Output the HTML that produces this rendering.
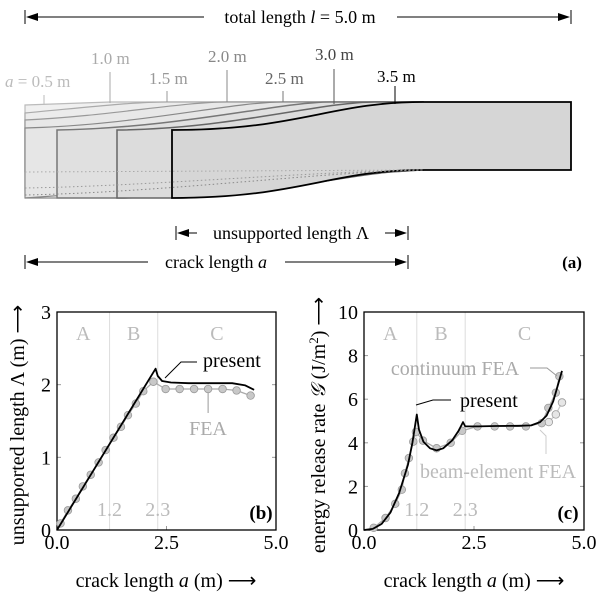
<!DOCTYPE html>
<html><head><meta charset="utf-8"><style>
html,body{margin:0;padding:0;background:#fff;}
svg{display:block;font-family:"Liberation Serif",serif;}
</style></head><body>
<svg id="fig" width="600" height="596" viewBox="0 0 600 596" xmlns="http://www.w3.org/2000/svg">
<g id="panel-a">
 <g>
  <line x1="25" y1="10" x2="25" y2="24" stroke="#000"/><line x1="571" y1="10" x2="571" y2="24" stroke="#000"/>
  <line x1="37" y1="17" x2="204" y2="17" stroke="#000"/><path d="M26,17 L38,13 L38,21Z"/>
  <line x1="397" y1="17" x2="560" y2="17" stroke="#000"/><path d="M570,17 L558,13 L558,21Z"/>
  <text x="300" y="23" font-size="18" text-anchor="middle">total length <tspan font-style="italic">l</tspan> = 5.0 m</text>
 </g>
 <g>
  <path d="M25,105 L110,102 L423,102 L423,170 L25,172 Z" fill="#f0f0f0" stroke="#bbb" stroke-width="1.2"/>
  <path d="M25,113 C80,108 130,102 167,102 L423,102 L423,170 L25,190 Z" fill="#ececec" stroke="#aaa" stroke-width="1.2"/>
  <path d="M25,120 C110,116 180,102 227,102 L423,102 L423,170 L25,195 Z" fill="#e8e8e8" stroke="#999" stroke-width="1.2"/>
  <path d="M25,128 C140,125 230,102 283,102 L423,102 L423,170 L25,198 Z" fill="#e6e6e6" stroke="#888" stroke-width="1.2"/>
  <path d="M57,130 C180,128 280,102 330,102 L423,102 L423,170 C330,170 200,198 120,198 L57,198 Z" fill="#e0e0e0" stroke="#777" stroke-width="1.5"/>
  <path d="M117,130 C230,129 320,102 375,102 L423,102 L423,170 C360,170 260,198 172,198 L117,198 Z" fill="#dcdcdc" stroke="#666" stroke-width="1.5"/>
  <path d="M172,130 C300,130 330,102 423,102 L571,102 L571,170 L423,170 C330,170 300,198 172,198 Z" fill="#d6d6d6" stroke="#000" stroke-width="1.8"/>
  <line x1="25" y1="172" x2="25" y2="198" stroke="#999" stroke-width="1.2"/>
  <line x1="25" y1="198" x2="57" y2="198" stroke="#888" stroke-width="1.2"/>
  <path d="M25,172 L423,170" fill="none" stroke="#aaa" stroke-dasharray="1.5,2.5"/>
  <path d="M25,188 C150,186 300,172 423,170" fill="none" stroke="#999" stroke-dasharray="1.5,2.5"/>
  <path d="M25,195 C170,192 320,172 423,170" fill="none" stroke="#888" stroke-dasharray="1.5,2.5"/>
 </g>
 <g font-size="17">
  <line x1="44" y1="95" x2="44" y2="104" stroke="#bbb"/><text x="5" y="87" fill="#bbb"><tspan font-style="italic">a</tspan> = 0.5 m</text>
  <line x1="110" y1="72" x2="110" y2="103" stroke="#aaa"/><text x="91" y="64" fill="#aaa">1.0 m</text>
  <line x1="167" y1="91" x2="167" y2="102" stroke="#999"/><text x="149" y="84" fill="#999">1.5 m</text>
  <line x1="227" y1="70" x2="227" y2="102" stroke="#888"/><text x="208" y="62" fill="#888">2.0 m</text>
  <line x1="283" y1="91" x2="283" y2="102" stroke="#777"/><text x="265" y="84" fill="#666">2.5 m</text>
  <line x1="334" y1="69" x2="334" y2="104" stroke="#555"/><text x="315" y="60" fill="#444">3.0 m</text>
  <line x1="395" y1="86" x2="395" y2="104" stroke="#000"/><text x="377" y="82" fill="#000">3.5 m</text>
 </g>
 <g>
  <line x1="176" y1="226" x2="176" y2="240" stroke="#000"/><line x1="408" y1="226" x2="408" y2="240" stroke="#000"/>
  <path d="M177,233 L189,229 L189,237Z"/><line x1="188" y1="233" x2="197" y2="233" stroke="#000"/>
  <path d="M407,233 L395,229 L395,237Z"/><line x1="385" y1="233" x2="396" y2="233" stroke="#000"/>
  <text x="291" y="239" font-size="18" text-anchor="middle">unsupported length Λ</text>
 </g>
 <g>
  <line x1="25" y1="255" x2="25" y2="269" stroke="#000"/><line x1="408" y1="255" x2="408" y2="269" stroke="#000"/>
  <path d="M26,262 L38,258 L38,266Z"/><line x1="37" y1="262" x2="148" y2="262" stroke="#000"/>
  <path d="M407,262 L395,258 L395,266Z"/><line x1="285" y1="262" x2="396" y2="262" stroke="#000"/>
  <text x="216" y="268" font-size="18" text-anchor="middle">crack length <tspan font-style="italic">a</tspan></text>
 </g>
 <text x="572" y="268" font-size="17" font-weight="bold" text-anchor="middle">(a)</text>
</g>
<g id="panel-b"></g>
<g id="panel-c"></g>
</svg>
<script>
// Panel (b) data
const bTicksX = [0, 2.5, 5];
const bTickLabelsX = ["0.0", "2.5", "5.0"];
const bTicksY = [0, 1, 2, 3];
const bPresentA = [0, 2.25, 2.3, 2.4, 2.6, 3.0, 3.5, 4.0, 4.3, 4.5];
const bPresentL = [0, 2.22, 2.12, 2.05, 2.03, 2.02, 2.02, 2.02, 1.99, 1.93];
const bFeaA = [0.08, 0.25, 0.43, 0.59, 0.77, 0.95, 1.11, 1.29, 1.46, 1.62, 1.80, 1.97, 2.20, 2.48, 2.80, 3.13, 3.45, 3.78, 4.10, 4.42];
const bFeaL = [0.09, 0.27, 0.43, 0.60, 0.76, 0.93, 1.10, 1.27, 1.42, 1.58, 1.74, 1.91, 2.04, 1.94, 1.94, 1.94, 1.94, 1.94, 1.92, 1.85];
// Panel (c) data
const cTicksY = [0, 2, 4, 6, 8, 10];
const cPresentA = [0, 0.2, 0.4, 0.6, 0.8, 1.0, 1.1, 1.2, 1.25, 1.35, 1.5, 1.65, 1.8, 2.0, 2.15, 2.25, 2.3, 2.6, 3.0, 3.5, 3.8, 4.0, 4.15, 4.3, 4.4, 4.5];
const cPresentG = [0, 0.05, 0.28, 0.8, 1.7, 3.0, 4.0, 5.3, 4.6, 4.05, 3.75, 3.65, 3.75, 4.1, 4.55, 4.95, 4.75, 4.75, 4.77, 4.78, 4.8, 4.95, 5.25, 5.9, 6.6, 7.3];
const cContA = [0.22, 0.49, 0.71, 0.86, 0.93, 1.02, 1.12, 1.18, 1.34, 1.65, 1.97, 2.23, 2.58, 2.97, 3.32, 3.68, 4.04, 4.19, 4.36, 4.44];
const cContG = [0.1, 0.55, 1.2, 1.85, 2.6, 3.3, 4.05, 4.5, 4.1, 3.75, 4.0, 4.55, 4.75, 4.75, 4.75, 4.75, 4.9, 5.6, 6.3, 7.05];
const cBeamA = [4.04, 4.2, 4.36, 4.5];
const cBeamG = [4.85, 4.95, 5.3, 5.85];

const NS = "http://www.w3.org/2000/svg";
function mk(parent, tag, attrs, text) {
  const e = document.createElementNS(NS, tag);
  for (const k in attrs) e.setAttribute(k, attrs[k]);
  if (text !== undefined) e.textContent = text;
  parent.appendChild(e);
  return e;
}
function axes(g, L, R, T, B, xmax, ymax, ticksY, tickLabelsY) {
  const sx = v => L + v / xmax * (R - L);
  const sy = v => B - v / ymax * (B - T);
  [1.2, 2.3].forEach(v => {
    const ln = mk(g, "line", {x1: sx(v), x2: sx(v), y1: T, y2: B, stroke: "#ddd", "stroke-width": 1});
    
    
  });
  bTicksX.forEach((v, i) => {
    mk(g, "line", {x1: sx(v), x2: sx(v), y1: B, y2: B - 4, stroke: "#999"});
    const t = mk(g, "text", {x: sx(v), y: B + 19, "font-size": 20, "text-anchor": "middle"}, bTickLabelsX[i]);
    
    
  });
  ticksY.forEach((v, i) => {
    mk(g, "line", {x1: L, x2: L + 4, y1: sy(v), y2: sy(v), stroke: "#999"});
    mk(g, "line", {x1: R, x2: R - 4, y1: sy(v), y2: sy(v), stroke: "#999"});
    const t = mk(g, "text", {x: L - 6, y: sy(v) + 7, "font-size": 20, "text-anchor": "end"}, tickLabelsY[i]);
    
    
  });
  const fr = mk(g, "rect", {x: L, y: T, width: R - L, height: B - T, fill: "none", stroke: "#000", "stroke-width": 1.3});
  
  
  [["A", 0.6], ["B", 1.75], ["C", 3.65]].forEach(p => {
    const t = mk(g, "text", {x: sx(p[1]), y: T + 28, "font-size": 20, fill: "#bbb", "text-anchor": "middle"}, p[0]);
    
    
  });
  [["1.2", 1.2], ["2.3", 2.3]].forEach(p => {
    const t = mk(g, "text", {x: sx(p[1]), y: B - 14, "font-size": 20, fill: "#bbb", "text-anchor": "middle"}, p[0]);
    
    
  });
  return [sx, sy];
}
function line(g, xs, ys, sx, sy, attrs, name) {
  const d = xs.map((v, i) => (i ? "L" : "M") + sx(v).toFixed(1) + "," + sy(ys[i]).toFixed(1)).join(" ");
  const p = mk(g, "path", Object.assign({d: d, fill: "none", "stroke-linejoin": "round"}, attrs));
  
  
}
function dots(g, xs, ys, sx, sy, fill, name) {
  xs.forEach((v, i) => {
    const c = mk(g, "circle", {cx: sx(v), cy: sy(ys[i]), r: 3.8, fill: fill, stroke: "#999", "stroke-width": 0.8});
    
    
  });
}
// Panel b
const gb = document.getElementById("panel-b");
const [bx, by] = axes(gb, 57, 276, 312, 530, 5, 3, bTicksY, ["0", "1", "2", "3"]);
line(gb, bFeaA, bFeaL, bx, by, {stroke: "#aaa", "stroke-width": 1.3}, "fea-line");
dots(gb, bFeaA, bFeaL, bx, by, "#c8c8c8", "fea-point");
line(gb, bPresentA, bPresentL, bx, by, {stroke: "#000", "stroke-width": 1.8}, "present-line");
mk(gb, "path", {d: "M165,378 L181,362 L197,362", fill: "none", stroke: "#000"});
const tb1 = mk(gb, "text", {x: 203, y: 367, "font-size": 20}, "present");


mk(gb, "line", {x1: bx(3.45), x2: bx(3.45), y1: by(1.94) + 4, y2: 413, stroke: "#999"});
const tb2 = mk(gb, "text", {x: 208, y: 435, "font-size": 20, fill: "#aaa", "text-anchor": "middle"}, "FEA");


const pb = mk(gb, "text", {x: 261, y: 519, "font-size": 19, "font-weight": "bold", "text-anchor": "middle"}, "(b)");


const xtb = mk(gb, "text", {x: 166, y: 587, "font-size": 20, "text-anchor": "middle"});
xtb.innerHTML = 'crack length <tspan font-style="italic">a</tspan> (m)  ⟶';


const ytb = mk(gb, "text", {x: 0, y: 0, "font-size": 20, "text-anchor": "middle", transform: "translate(24,425) rotate(-90)"});
ytb.innerHTML = 'unsupported length Λ (m)  ⟶';


// Panel c
const gc = document.getElementById("panel-c");
const [cx, cy] = axes(gc, 364, 584, 312, 530, 5, 10, cTicksY, ["0", "2", "4", "6", "8", "10"]);
line(gc, cBeamA, cBeamG, cx, cy, {stroke: "#ccc", "stroke-width": 1.3}, "beam-element-fea-line");
dots(gc, cBeamA.slice(1), cBeamG.slice(1), cx, cy, "#e6e6e6", "beam-element-fea-point");
line(gc, cContA, cContG, cx, cy, {stroke: "#aaa", "stroke-width": 1.3}, "continuum-fea-line");
dots(gc, cContA, cContG, cx, cy, "#c8c8c8", "continuum-fea-point");
line(gc, cPresentA, cPresentG, cx, cy, {stroke: "#000", "stroke-width": 1.8}, "present-line");
mk(gc, "path", {d: "M530,368 L547,368 L557,376", fill: "none", stroke: "#999"});
const tc1 = mk(gc, "text", {x: 455, y: 375, "font-size": 20, fill: "#aaa", "text-anchor": "middle"}, "continuum FEA");


mk(gc, "path", {d: "M416,405 L433,400 L451,400", fill: "none", stroke: "#000"});
const tc2 = mk(gc, "text", {x: 460, y: 407, "font-size": 20}, "present");


mk(gc, "path", {d: "M546,454 L546,436 L540,430", fill: "none", stroke: "#ccc"});
const tc3 = mk(gc, "text", {x: 498, y: 478, "font-size": 20, fill: "#bbb", "text-anchor": "middle"}, "beam-element FEA");


const pc = mk(gc, "text", {x: 568, y: 519, "font-size": 19, "font-weight": "bold", "text-anchor": "middle"}, "(c)");


const xtc = mk(gc, "text", {x: 474, y: 587, "font-size": 20, "text-anchor": "middle"});
xtc.innerHTML = 'crack length <tspan font-style="italic">a</tspan> (m)  ⟶';


const ytc = mk(gc, "text", {x: 0, y: 0, "font-size": 20, "text-anchor": "middle", transform: "translate(325,425) rotate(-90)"});
ytc.innerHTML = 'energy release rate <tspan font-style="italic">𝒢</tspan> (J/m<tspan dy="-7" font-size="13">2</tspan><tspan dy="7">)  ⟶</tspan>';


</script>
</body></html>
